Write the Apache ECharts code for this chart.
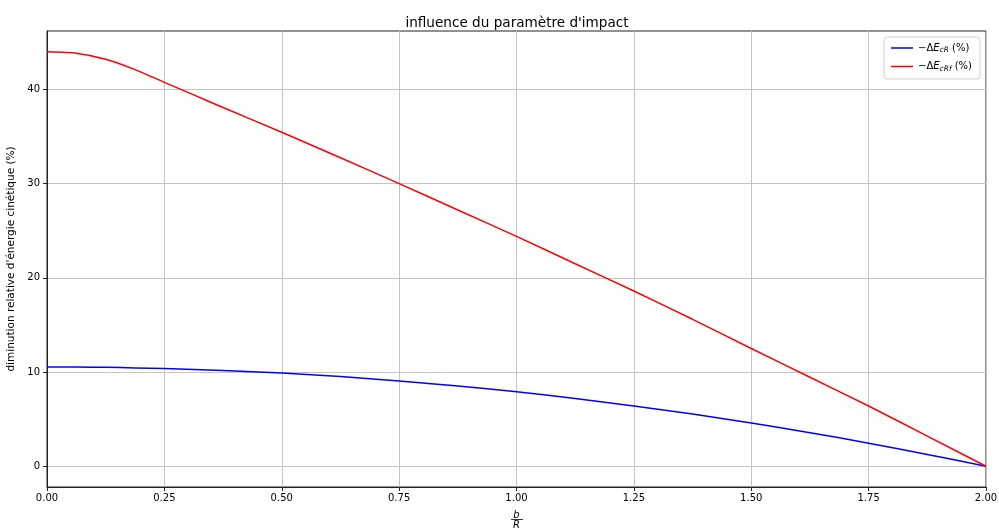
<!DOCTYPE html>
<html>
<head>
<meta charset="utf-8">
<script src="https://cdn.jsdelivr.net/npm/echarts@6/dist/echarts.min.js"></script>
<style>html,body{margin:0;padding:0;background:#fff}#c{width:999px;height:529px}</style>
</head>
<body>
<div id="c"></div>
<script>
// data
var bOverR = [0, 0.0625, 0.125, 0.1875, 0.25, 0.3125, 0.375, 0.5, 0.625, 0.75, 0.875, 1.0, 1.125, 1.25, 1.375, 1.5, 1.625, 1.75, 1.875, 2.0];
var dEcR  = [10.55, 10.54, 10.5, 10.44, 10.37, 10.28, 10.17, 9.9, 9.52, 9.05, 8.52, 7.9, 7.2, 6.4, 5.55, 4.6, 3.57, 2.45, 1.25, 0];
var dEcRf = [44.0, 43.85, 43.2, 42.1, 40.75, 39.42, 38.08, 35.45, 32.75, 30.0, 27.2, 24.4, 21.5, 18.6, 15.6, 12.5, 9.45, 6.4, 3.2, 0];
var xTicks = [0, 0.25, 0.5, 0.75, 1.0, 1.25, 1.5, 1.75, 2.0];
var yTicks = [0, 10, 20, 30, 40];
var seriesNames = ['cR', 'cRf'];

function pairs(xs, ys){ return xs.map(function(x,i){ return [x, ys[i]]; }); }

var font = 'DejaVu Sans';
var chart = echarts.init(document.getElementById('c'), null, {renderer:'canvas'});
var option = {
  animation: false,
  backgroundColor: '#fff',
  textStyle: {fontFamily: font},
  title: {
    text: "influence du paramètre d'impact",
    left: 512, top: 11, textAlign: 'center',
    textStyle: {fontFamily: font, fontSize: 13.6, fontWeight: 'normal', color: '#000'}
  },
  grid: {left: 47, right: 13, top: 31, bottom: 42, show: true, borderColor: '#222', borderWidth: 1,
         containLabel: false, outerBoundsMode: 'none'},
  legend: {
    orient: 'vertical', right: 19, top: 37,
    backgroundColor: '#fff', borderColor: '#d0d0d0', borderWidth: 1, borderRadius: 3,
    padding: [6, 8, 6, 7], itemGap: 7, itemWidth: 22, itemHeight: 1.5, icon: 'rect',
    data: seriesNames,
    formatter: function(n){ return '−Δ{i|E}{s|' + n + '} (%)'; },
    textStyle: {
      fontFamily: font, fontSize: 10, color: '#000',
      rich: {
        i: {fontFamily: font, fontSize: 10, fontStyle: 'italic', color: '#000'},
        s: {fontFamily: font, fontSize: 7.5, fontStyle: 'italic', color: '#000', padding: [5, 0, 0, 0]}
      }
    }
  },
  xAxis: {
    type: 'value', min: 0, max: 2, interval: 0.25,
    name: '{b|b}\n{r|R}', nameLocation: 'middle', nameGap: 23,
    nameTextStyle: {
      rich: {
        b: {fontFamily: font, fontSize: 10, fontStyle: 'italic', color: '#000', lineHeight: 10},
        r: {fontFamily: font, fontSize: 10, fontStyle: 'italic', color: '#000', lineHeight: 10}
      }
    },
    axisLine: {show: true, onZero: false, lineStyle: {color: '#222', width: 1}},
    axisTick: {show: true, length: 4, lineStyle: {color: '#222'}},
    axisLabel: {fontFamily: font, fontSize: 10, color: '#000', margin: 6,
      formatter: function(v){ return v.toFixed(2); }},
    splitLine: {show: true, lineStyle: {color: '#c4c4c4', width: 1}}
  },
  yAxis: {
    type: 'value', min: -2.2, max: 46.2,
    name: "diminution relative d'énergie cinétique (%)", nameLocation: 'middle', nameGap: 27,
    nameTextStyle: {fontFamily: font, fontSize: 10.5, color: '#000'},
    axisLine: {show: true, onZero: false, lineStyle: {color: '#222', width: 1}},
    axisTick: {show: true, length: 4, customValues: yTicks, lineStyle: {color: '#222'}},
    axisLabel: {fontFamily: font, fontSize: 10, color: '#000', margin: 7, customValues: yTicks},
    splitLine: {show: true, lineStyle: {color: '#c4c4c4', width: 1}}
  },
  graphic: [{
    type: 'line', shape: {x1: 511, y1: 519.5, x2: 523, y2: 519.5},
    style: {stroke: '#000', lineWidth: 0.8}, z: 100
  }],
  series: [
    {name: seriesNames[0], type: 'line', data: pairs(bOverR, dEcR), showSymbol: false, symbol: 'none',
     smooth: 0.2, lineStyle: {color: '#0000ff', width: 1.5}, itemStyle: {color: '#0000ff'}},
    {name: seriesNames[1], type: 'line', data: pairs(bOverR, dEcRf), showSymbol: false, symbol: 'none',
     smooth: 0.2, lineStyle: {color: '#ff0000', width: 1.5}, itemStyle: {color: '#ff0000'}}
  ]
};
chart.setOption(option);
</script>
</body>
</html>
